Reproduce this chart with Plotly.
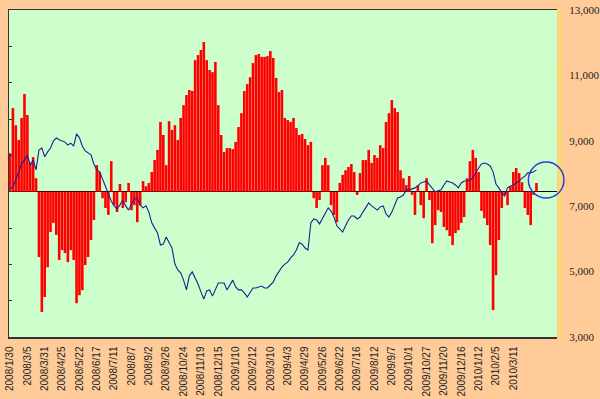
import plotly.graph_objects as go

# ---- data ----
tick_labels = ["2008/1/30", "2008/3/5", "2008/3/31", "2008/4/25", "2008/5/22", "2008/6/17",
               "2008/7/11", "2008/8/7", "2008/9/2", "2008/9/26", "2008/10/24", "2008/11/19",
               "2008/12/15", "2009/1/10", "2009/2/12", "2009/3/10", "2009/4/3", "2009/4/29",
               "2009/5/26", "2009/6/22", "2009/7/16", "2009/8/12", "2009/9/7", "2009/10/1",
               "2009/10/27", "2009/11/20", "2009/12/16", "2010/1/12", "2010/2/5", "2010/3/11"]

# deviation bars (left axis, no labels), one value per sample
bar_values = [
    10.6, 23.0, 18.3, 14.2, 20.3, 26.9, 21.1, 7.9, 9.5, 3.7,
    -18.0, -33.1, -29.0, -20.8, -11.1, -8.6, -11.9, -18.8, -16.1, -16.9,
    -19.4, -16.1, -18.8, -30.7, -28.5, -27.1, -20.2, -18.0, -13.3, -7.8,
    7.3, 5.4, -1.8, -4.5, -6.4, 8.4, -3.7, -5.6, 2.1, -4.5,
    -2.9, 2.4, -5.1, -3.7, -8.4, -3.7, 2.9, 1.5, 2.4, 5.4,
    8.7, 11.5, 19.2, 15.6, 7.3, 19.4, 17.0, 18.3, 14.2, 20.3,
    23.8, 26.6, 28.0, 27.7, 36.2, 37.6, 39.0, 41.2, 36.2, 33.5,
    32.9, 35.7, 23.8, 15.6, 10.9, 12.0, 12.0, 11.7, 13.7, 17.8,
    21.6, 27.7, 29.6, 31.5, 35.4, 37.6, 37.9, 37.1, 37.1, 37.3,
    38.7, 36.8, 31.3, 27.4, 28.0, 20.3, 19.7, 19.2, 20.3, 17.5,
    15.6, 15.9, 14.5, 12.8, 13.7, -1.8, -4.5, -2.3, 7.3, 9.3,
    7.3, -3.7, -6.4, -8.4, 2.4, 4.6, 5.9, 6.8, 7.6, 5.4,
    -0.9, 5.1, 8.7, 8.7, 11.5, 7.9, 10.1, 9.3, 12.8, 12.0,
    19.2, 21.6, 25.2, 23.0, 21.9, 5.9, 3.7, 1.8, 4.3, -0.9,
    -6.4, 1.8, -3.7, -7.3, 3.7, -2.3, -14.2, -9.2, -5.1, -5.6,
    -9.7, -10.6, -12.2, -14.7, -11.4, -10.6, -8.6, -7.0, 3.7, 8.4,
    11.5, 9.3, 5.4, -5.3, -7.3, -9.2, -14.7, -32.6, -23.0, -13.3,
    -4.5, -0.9, -3.7, 1.5, 5.4, 6.5, 5.1, 2.6, -4.5, -6.4,
    -9.2, -0.9, 2.4,
]

# index line (right axis)
line_values = [
    7530, 7590, 7800, 8050, 8290, 8410, 8570, 8260, 8410, 8110,
    8720, 8780, 8510, 8660, 8780, 8990, 9090, 9030, 8990, 8960,
    8870, 8930, 8840, 9210, 9090, 8840, 8690, 8630, 8570, 8290,
    8110, 8050, 7830, 7560, 7340, 7160, 7010, 6920, 7040, 7190,
    7010, 6880, 7070, 7220, 7250, 7040, 6950, 7010, 6820, 6490,
    6330, 6180, 5810, 5840, 6060, 5880, 5720, 5230, 5050, 4960,
    4740, 4440, 4870, 4990, 4810, 4620, 4380, 4160, 4410, 4440,
    4250, 4440, 4650, 4650, 4650, 4440, 4590, 4740, 4530, 4440,
    4440, 4350, 4220, 4380, 4500, 4500, 4530, 4560, 4500, 4500,
    4590, 4680, 4870, 5020, 5140, 5230, 5290, 5420, 5510, 5660,
    5880, 5840, 5720, 5660, 6490, 6610, 6580, 6460, 6640, 6790,
    6950, 6850, 6670, 6400, 6300, 6210, 6400, 6580, 6700, 6700,
    6610, 6670, 6820, 6980, 7100, 7010, 6950, 6880, 6980, 7010,
    6760, 6670, 6820, 7010, 7250, 7280, 7340, 7500, 7500, 7530,
    7560, 7620, 7710, 7740, 7770, 7650, 7530, 7440, 7470, 7500,
    7650, 7770, 7740, 7710, 7650, 7560, 7710, 7770, 7770, 7800,
    7860, 8020, 8170, 8290, 8320, 8290, 8230, 8050, 7680, 7560,
    7400, 7310, 7560, 7620, 7650, 7710, 7770, 7860, 7920, 8020,
    8020, 8050, 8110,
]

samples_per_label = 6
x_idx = list(range(len(line_values)))
tick_vals = [k * samples_per_label for k in range(len(tick_labels))]

X_MIN, X_MAX = -0.35, 189.1
Y2_MIN, Y2_MAX = 3000, 13000
Y_MIN, Y_MAX = -40, 50

# highlight circle (data units: sample index / right-axis value)
circle_x = (179.2, 191.5)
circle_y = (7250, 8350)

fig = go.Figure()
fig.add_trace(go.Bar(x=x_idx, y=bar_values, marker=dict(color="#FF0000", line=dict(width=0)),
                     yaxis="y", showlegend=False, hoverinfo="skip"))
fig.add_trace(go.Scatter(x=x_idx, y=line_values, yaxis="y2", mode="lines",
                         line=dict(color="#1E1E96", width=1.1), showlegend=False,
                         hoverinfo="skip"))

W, H = 600, 399
ml, mr, mt, mb = 9, 40, 10, 62
dom_end = 548 / (W - ml - mr)

def px(v):
    return (v - X_MIN) / (X_MAX - X_MIN) * dom_end

def py(v):
    return (v - Y2_MIN) / (Y2_MAX - Y2_MIN)

fig.add_shape(type="circle", xref="paper", yref="paper",
              x0=px(circle_x[0]), x1=px(circle_x[1]), y0=py(circle_y[0]), y1=py(circle_y[1]),
              line=dict(color="#2F3FD8", width=1.5), fillcolor="rgba(0,0,0,0)")

fig.update_layout(
    width=W, height=H,
    margin=dict(l=ml, r=mr, t=mt, b=mb, autoexpand=False),
    paper_bgcolor="#FFCC99",
    plot_bgcolor="#CCFFCC",
    bargap=0.1,
    showlegend=False,
    hovermode=False,
    xaxis=dict(domain=[0, dom_end], range=[X_MIN, X_MAX], tickvals=tick_vals, ticktext=tick_labels,
               tickangle=-90, ticks="", showgrid=False, zeroline=False, automargin=False,
               showline=True, linecolor="#333333", linewidth=1.5, mirror=True,
               tickfont=dict(family="Liberation Sans, Arial", size=10, color="#222222"),
               ticklabelstandoff=4),
    yaxis=dict(range=[Y_MIN, Y_MAX], dtick=10, showticklabels=False, ticks="inside", ticklen=3,
               tickcolor="#333333", showgrid=False, showline=True, linecolor="#333333", linewidth=1.5,
               automargin=False,
               zeroline=True, zerolinecolor="#000000", zerolinewidth=1.5, layer="above traces"),
    yaxis2=dict(overlaying="y", side="right", anchor="free", position=1.0, automargin=False,
                range=[Y2_MIN, Y2_MAX], tick0=3000, dtick=2000, tickformat=",d", showgrid=False,
                zeroline=False,
                showline=True, linecolor="#F2E84A", linewidth=2, ticks="inside", ticklen=3,
                tickcolor="#F2E84A", ticklabelstandoff=6,
                tickfont=dict(family="Liberation Serif, Times New Roman", size=11, color="#222222")),
)

fig.write_html("out.html", config={"displayModeBar": False, "staticPlot": True},
               post_script="document.body.style.margin='0';document.body.style.background='#FFCC99';")
